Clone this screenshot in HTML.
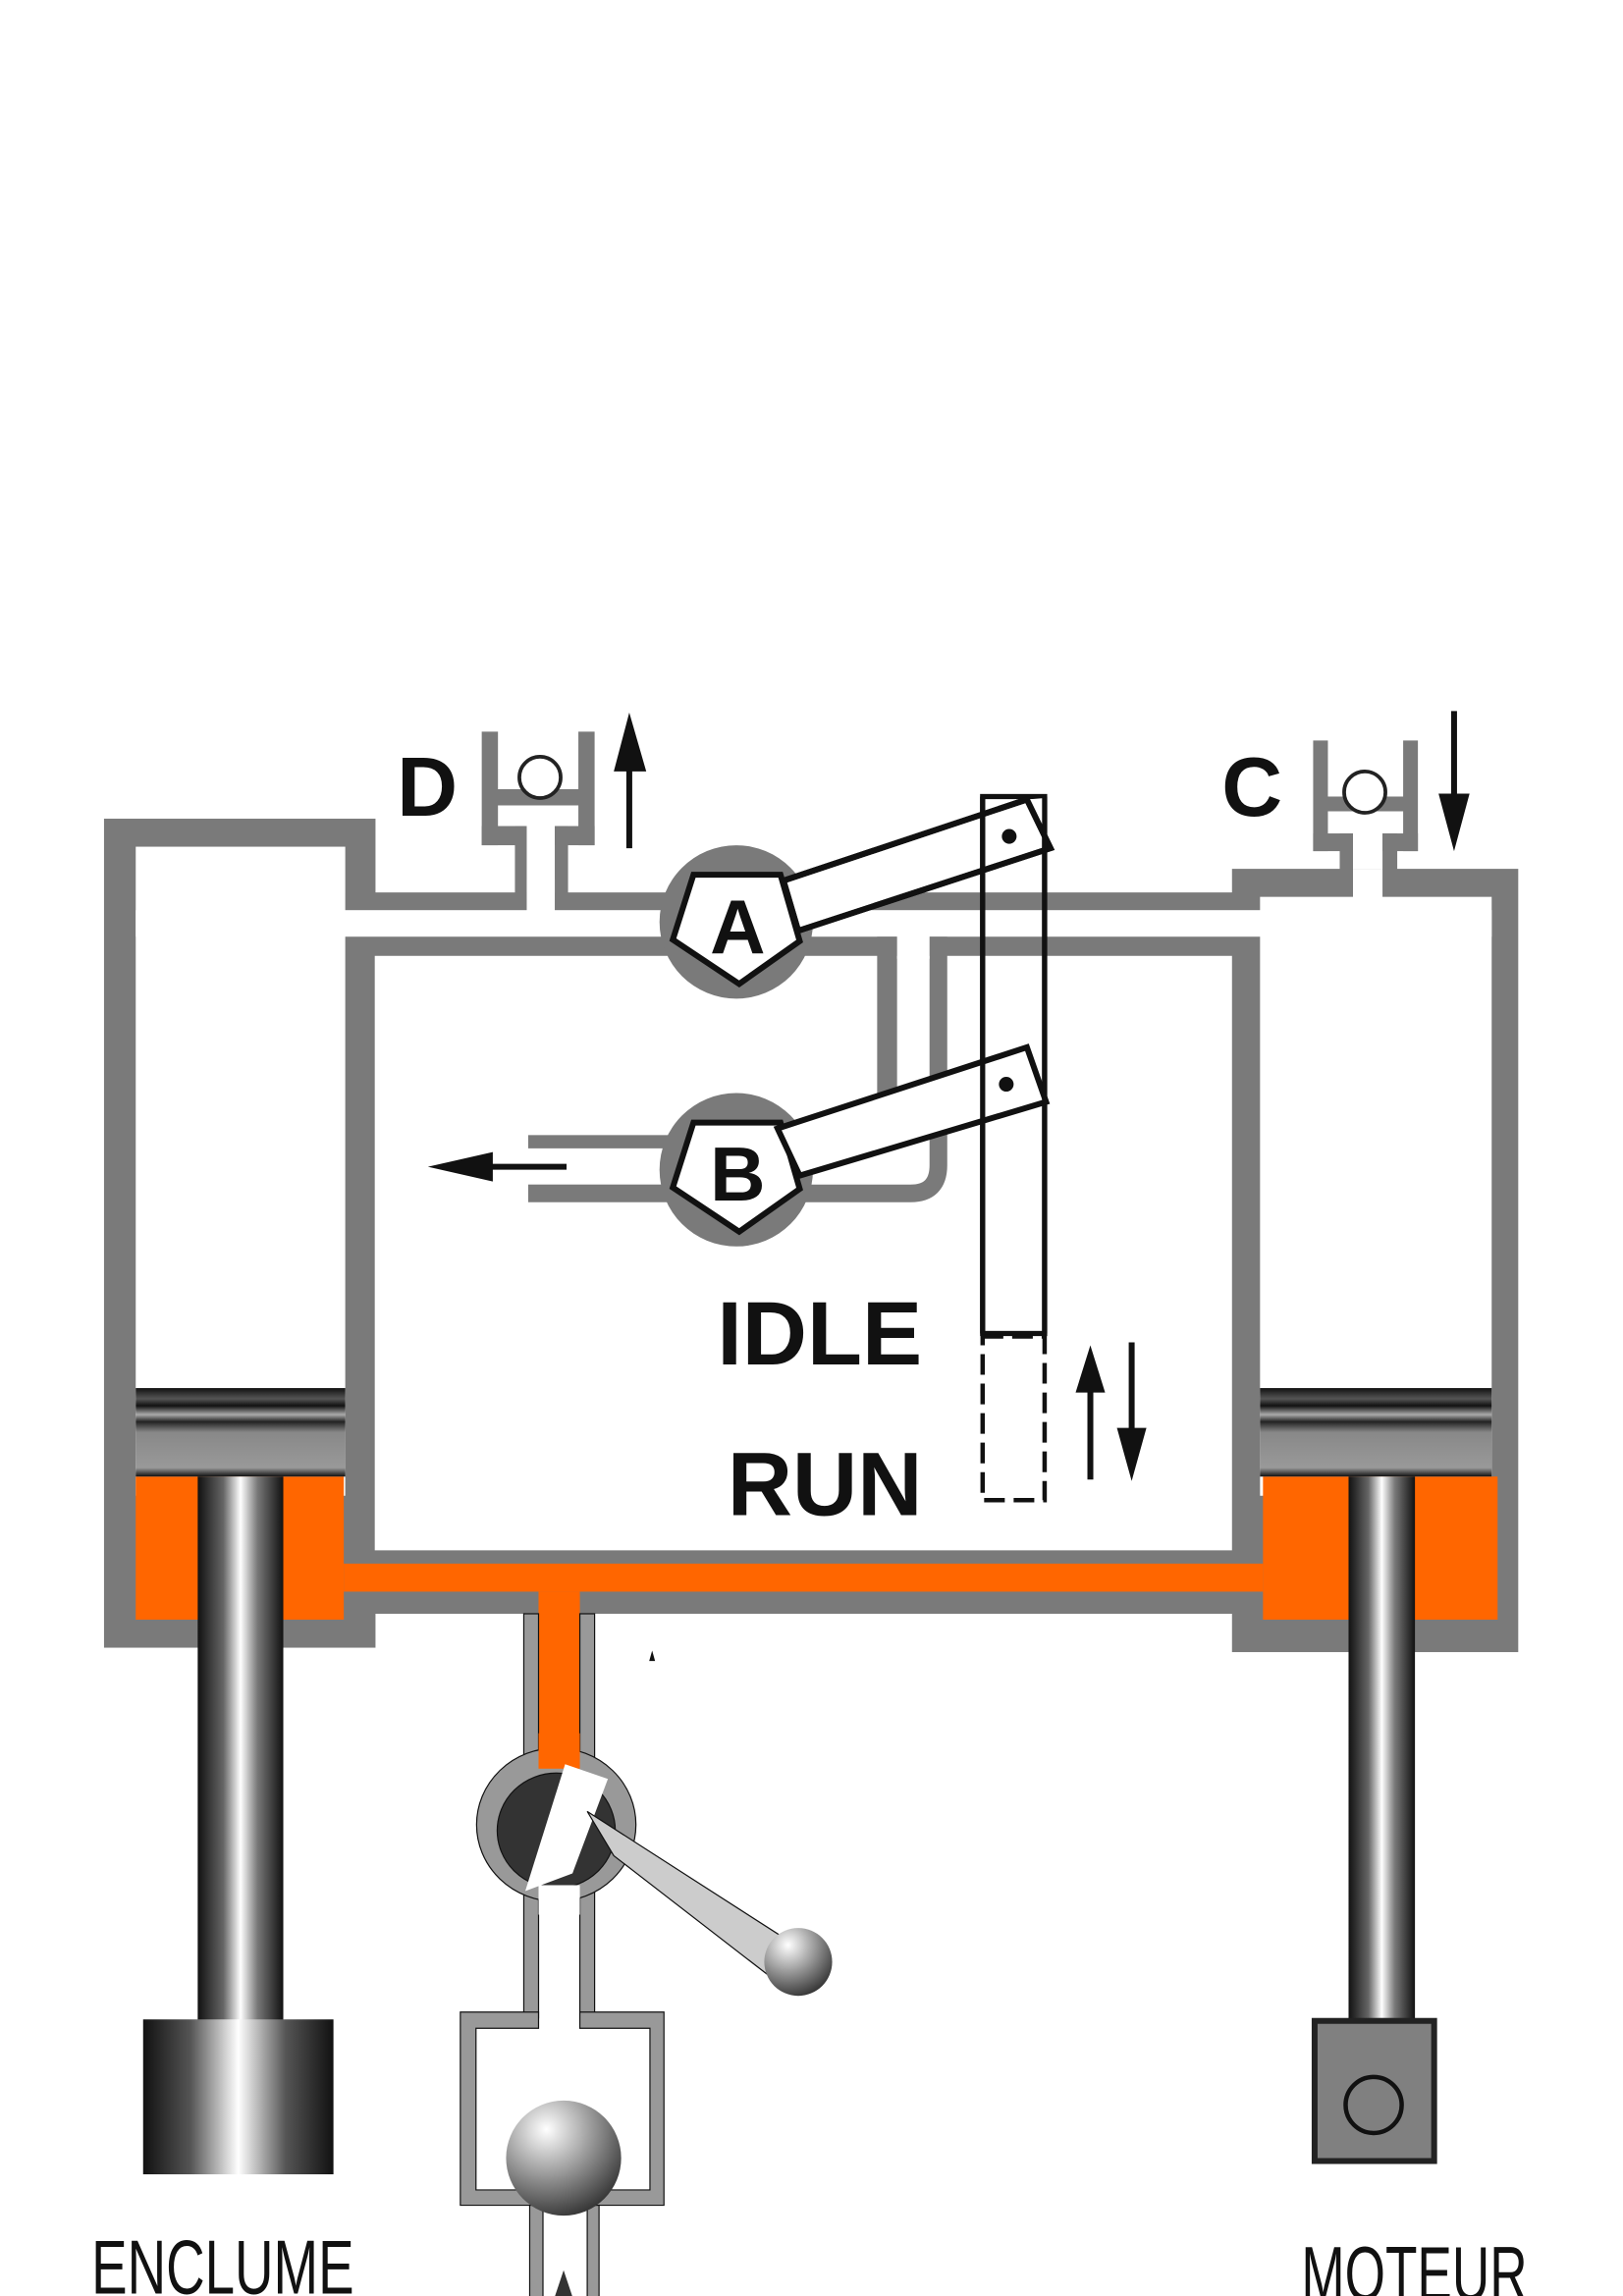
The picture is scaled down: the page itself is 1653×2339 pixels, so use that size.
<!DOCTYPE html>
<html><head><meta charset="utf-8"><style>html,body{margin:0;padding:0;background:#fff}svg{display:block}</style></head>
<body>
<svg width="1653" height="2339" viewBox="0 0 1100 1556.5" xmlns="http://www.w3.org/2000/svg">
<defs>
<linearGradient id="rod" x1="0" x2="1" y1="0" y2="0">
<stop offset="0" stop-color="#111"/><stop offset="0.3" stop-color="#666"/><stop offset="0.5" stop-color="#fff"/><stop offset="0.7" stop-color="#777"/><stop offset="1" stop-color="#111"/></linearGradient>
<linearGradient id="anv" x1="0" x2="1" y1="0" y2="0">
<stop offset="0" stop-color="#111"/><stop offset="0.25" stop-color="#555"/><stop offset="0.5" stop-color="#fff"/><stop offset="0.75" stop-color="#555"/><stop offset="1" stop-color="#111"/></linearGradient>
<radialGradient id="ball" cx="0.35" cy="0.25" r="0.8"><stop offset="0" stop-color="#fff"/><stop offset="0.5" stop-color="#999"/><stop offset="1" stop-color="#333"/></radialGradient>
<linearGradient id="head" x1="0" x2="0" y1="0" y2="1">
<stop offset="0" stop-color="#111"/><stop offset="0.12" stop-color="#555"/><stop offset="0.2" stop-color="#111"/><stop offset="0.3" stop-color="#aaa"/><stop offset="0.38" stop-color="#222"/><stop offset="0.5" stop-color="#888"/><stop offset="0.9" stop-color="#999"/><stop offset="1" stop-color="#111"/></linearGradient>
</defs>
<g fill="#7a7a7a">
<rect x="70.5" y="555" width="184" height="562"/>
<rect x="234" y="605" width="620" height="489"/>
<rect x="835" y="589" width="194" height="531"/>
<!-- D valve -->
<rect x="326.5" y="496" width="11" height="77"/>
<rect x="392" y="496" width="11" height="77"/>
<rect x="326.5" y="560" width="30" height="13"/>
<rect x="376" y="560" width="27" height="13"/>
<rect x="349" y="560" width="8" height="50"/>
<rect x="376" y="560" width="9" height="50"/>
<rect x="337" y="535" width="56" height="11"/>
<!-- C valve -->
<rect x="890" y="502" width="10" height="75"/>
<rect x="951" y="502" width="10" height="75"/>
<rect x="890" y="565" width="27" height="12"/>
<rect x="937" y="565" width="24" height="12"/>
<rect x="908" y="565" width="9" height="30"/>
<rect x="937" y="565" width="10" height="30"/>
<rect x="899" y="540" width="53" height="10"/>
</g>
<g fill="#fff" stroke="#222" stroke-width="2.5">
<circle cx="366" cy="527" r="14"/>
<circle cx="925" cy="537" r="14"/>
</g>
<g fill="#fff">
<rect x="92" y="574" width="142" height="440"/>
<rect x="92" y="617" width="919" height="18"/>
<rect x="854" y="608" width="157" height="406"/>
<rect x="254" y="648" width="581" height="403"/>
<rect x="357" y="596" width="19" height="22"/>
<rect x="917" y="589" width="20" height="22"/>
</g>
<rect x="594.5" y="635" width="13.5" height="140" fill="#7a7a7a"/>
<path d="M636,635 V790 Q636,809 617,809 H540" fill="none" stroke="#7a7a7a" stroke-width="12"/>
<rect x="608" y="630" width="22" height="20" fill="#fff"/>
<rect x="358" y="769.5" width="110" height="9" fill="#7a7a7a"/>
<rect x="358" y="803" width="110" height="12" fill="#7a7a7a"/>
<g fill="#ff6600">
<rect x="92" y="1001" width="141" height="97"/>
<rect x="856" y="1001" width="159" height="97"/>
<rect x="233" y="1060" width="623" height="19"/>
<rect x="365" y="1079" width="28" height="117"/>
</g>
<rect x="92" y="941" width="142" height="60" fill="url(#head)"/>
<rect x="854" y="941" width="157" height="60" fill="url(#head)"/>
<rect x="134" y="1001" width="58" height="370" fill="url(#rod)"/>
<rect x="914" y="1001" width="45" height="370" fill="url(#rod)"/>
<rect x="97" y="1369" width="129" height="105" fill="url(#anv)"/>
<rect x="891" y="1370" width="81" height="95" fill="#808080" stroke="#222" stroke-width="4"/>
<ellipse cx="931" cy="1427" rx="19" ry="19" fill="none" stroke="#111" stroke-width="3"/>
<g fill="#999" stroke="#111" stroke-width="0.8">
<rect x="355" y="1094" width="10" height="100"/>
<rect x="393" y="1094" width="10" height="100"/>
<rect x="355" y="1278" width="10" height="90"/>
<rect x="393" y="1278" width="10" height="90"/>
<path d="M312,1364 H365 V1375 H322.6 V1484.6 H440.5 V1375 H393 V1364 H450 V1495 H312 Z"/>
<rect x="359" y="1495" width="9" height="62"/>
<rect x="398" y="1495" width="8" height="62"/>
</g>
<polygon points="382,1539 376,1557 388,1557" fill="#333"/>
<circle cx="382" cy="1463" r="39" fill="url(#ball)"/>
<ellipse cx="377" cy="1237" rx="54" ry="52" fill="#999" stroke="#111" stroke-width="0.8"/>
<ellipse cx="377" cy="1241" rx="40" ry="39" fill="#333" stroke="#111" stroke-width="0.8"/>
<rect x="365" y="1175" width="28" height="24" fill="#ff6600"/>
<polygon points="383,1196 412,1206 388,1270 356,1282" fill="#fff"/>
<rect x="365" y="1278" width="28" height="20" fill="#fff"/>
<polygon points="398,1228 416,1258 522,1340 538,1318" fill="#ccc" stroke="#111" stroke-width="0.8"/>
<circle cx="541" cy="1330" r="23" fill="url(#ball)"/>
<circle cx="499" cy="625" r="52" fill="#7a7a7a"/>
<circle cx="499" cy="793" r="52" fill="#7a7a7a"/>
<g fill="#fff" stroke="#111" stroke-width="4">
<polygon points="531,597 696,542 712,575 541,631"/>
<polygon points="470,593 529,593 542,638 501,667 456,637"/>
<polygon points="470,761 529,761 542,806 501,835 456,805"/>
</g>
<g font-family="Liberation Sans, sans-serif" font-weight="bold" fill="#111" text-anchor="middle">
<text x="500" y="646" font-size="52">A</text>
<text x="500" y="814" font-size="52">B</text>
</g>
<rect x="666" y="540" width="42" height="364" fill="none" stroke="#111" stroke-width="3.5"/>
<rect x="666" y="906" width="42" height="111" fill="none" stroke="#111" stroke-width="3" stroke-dasharray="14,6"/>
<polygon points="696,542 712,575 708,576 708,541" fill="#fff"/>
<polygon points="531,597 696,542 712,575 541,631" fill="none" stroke="#111" stroke-width="4"/>
<polygon points="527,765 696,710 709,747 542,797" fill="#fff" stroke="#111" stroke-width="4"/>
<line x1="708" y1="540" x2="708" y2="904" stroke="#111" stroke-width="3.5"/>
<line x1="666" y1="540" x2="666" y2="904" stroke="#111" stroke-width="3.5"/>
<circle cx="684" cy="567" r="5" fill="#111"/>
<circle cx="682" cy="735" r="5" fill="#111"/>
<g fill="#111" stroke="#111">
<line x1="333" y1="791" x2="384" y2="791" stroke-width="4"/>
<polygon points="290,791 334,781 334,801" stroke="none"/>
<line x1="426.5" y1="520" x2="426.5" y2="575" stroke-width="4"/>
<polygon points="426.5,483 416,523 438,523" stroke="none"/>
<line x1="985.5" y1="482" x2="985.5" y2="540" stroke-width="4"/>
<polygon points="985.5,577 975,538 996,538" stroke="none"/>
<line x1="739" y1="940" x2="739" y2="1003" stroke-width="4"/>
<polygon points="739,912 729,944 749,944" stroke="none"/>
<line x1="767" y1="910" x2="767" y2="970" stroke-width="4"/>
<polygon points="767,1004 757,968 777,968" stroke="none"/>
<polygon points="442,1119 440,1126 444,1126" stroke="none"/>
</g>
<g font-family="Liberation Sans, sans-serif" font-weight="bold" fill="#111">
<text x="269" y="553" font-size="57">D</text>
<text x="828" y="553" font-size="57">C</text>
<text x="486" y="925" font-size="61">IDLE</text>
<text x="493" y="1027" font-size="61">RUN</text>
</g>
<g font-family="Liberation Sans, sans-serif" fill="#111" font-size="52">
<text transform="translate(62,1555) scale(0.7,1)">ENCLUME</text>
<text transform="translate(882,1559) scale(0.68,1)">MOTEUR</text>
</g>
</svg>
</body></html>
